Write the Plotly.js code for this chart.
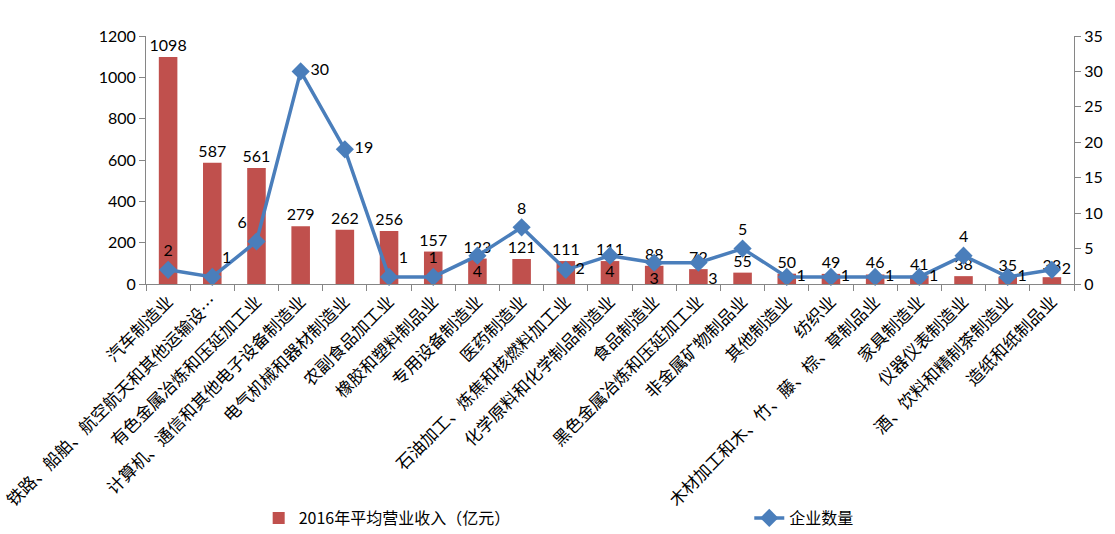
<!DOCTYPE html>
<html><head><meta charset="utf-8">
<script src="https://cdn.plot.ly/plotly-3.0.1.min.js"></script>
<style>html,body{margin:0;padding:0;background:#fff;}#chart{width:1115px;height:534px;}</style>
</head><body><div id="chart"></div>
<script>
const categories = ["汽车制造业","铁路、船舶、航空航天和其他运输设…","有色金属冶炼和压延加工业","计算机、通信和其他电子设备制造业","电气机械和器材制造业","农副食品加工业","橡胶和塑料制品业","专用设备制造业","医药制造业","石油加工、炼焦和核燃料加工业","化学原料和化学制品制造业","食品制造业","黑色金属冶炼和压延加工业","非金属矿物制品业","其他制造业","纺织业","木材加工和木、竹、藤、棕、草制品业","家具制造业","仪器仪表制造业","酒、饮料和精制茶制造业","造纸和纸制品业"];
const revenue = [1098,587,561,279,262,256,157,123,121,111,111,88,72,55,50,49,46,41,38,35,33];
const companies = [2,1,6,30,19,1,1,4,8,2,4,3,3,5,1,1,1,1,4,1,2];
const lineLabelPos = ["top center","top right","top left","middle right","middle right","top right","top center","bottom center","top center","middle right","bottom center","bottom center","bottom right","top center","middle right","middle right","middle right","middle right","top center","middle right","middle right"];

const font = "Lato, 'Noto Sans CJK SC', sans-serif";
const cjk = "'Noto Sans CJK SC', sans-serif";
const traces = [
  {type:'bar', name:'2016年平均营业收入（亿元）', x:categories, y:revenue, legend:'legend',
   marker:{color:'#C0504D'}, text:revenue.map(String), textposition:'outside', constraintext:'none',
   textfont:{size:16,color:'#000',family:font}, cliponaxis:false},
  {type:'scatter', mode:'lines+markers+text', name:'企业数量', x:categories, y:companies, yaxis:'y2', legend:'legend2',
   line:{color:'#4A7EBB',width:3.5}, marker:{symbol:'diamond',size:14,color:'#4A7EBB'},
   text:companies.map(String), textposition:lineLabelPos,
   textfont:{size:16,color:'#000',family:font}, cliponaxis:false}
];
const layout = {
  width:1115, height:534, paper_bgcolor:'#fff', plot_bgcolor:'#fff',
  margin:{l:146, r:41, t:36, b:250},
  bargap:0.58, showlegend:true,
  font:{family:font, size:16, color:'#000'},
  xaxis:{type:'category', range:[-0.5,20.5], tickangle:-45, tickson:'boundaries', ticks:'outside', ticklen:6, automargin:false,
         tickcolor:'#868686', showline:true, linecolor:'#868686', linewidth:1,
         tickfont:{family:cjk, size:17, color:'#000'}, showgrid:false},
  yaxis:{range:[0,1200], dtick:200, ticks:'outside', ticklen:6, tickcolor:'#868686', automargin:false,
         showline:true, linecolor:'#868686', showgrid:false, zeroline:false,
         tickfont:{family:font,size:16,color:'#000'}},
  yaxis2:{range:[0,35], dtick:5, overlaying:'y', side:'right', ticks:'outside', ticklen:6, automargin:false,
          tickcolor:'#868686', showline:true, linecolor:'#868686', showgrid:false, zeroline:false,
          tickfont:{family:font,size:16,color:'#000'}},
  legend:{orientation:'h', xref:'container', yref:'container', x:0.232, xanchor:'left', y:0.03, yanchor:'middle', bgcolor:'rgba(0,0,0,0)',
          font:{family:cjk,size:16,color:'#000'}},
  legend2:{orientation:'h', xref:'container', yref:'container', x:0.672, xanchor:'left', y:0.03, yanchor:'middle', bgcolor:'rgba(0,0,0,0)',
          font:{family:cjk,size:16,color:'#000'}}
};
Plotly.newPlot('chart', traces, layout, {displayModeBar:false});
</script></body></html>
